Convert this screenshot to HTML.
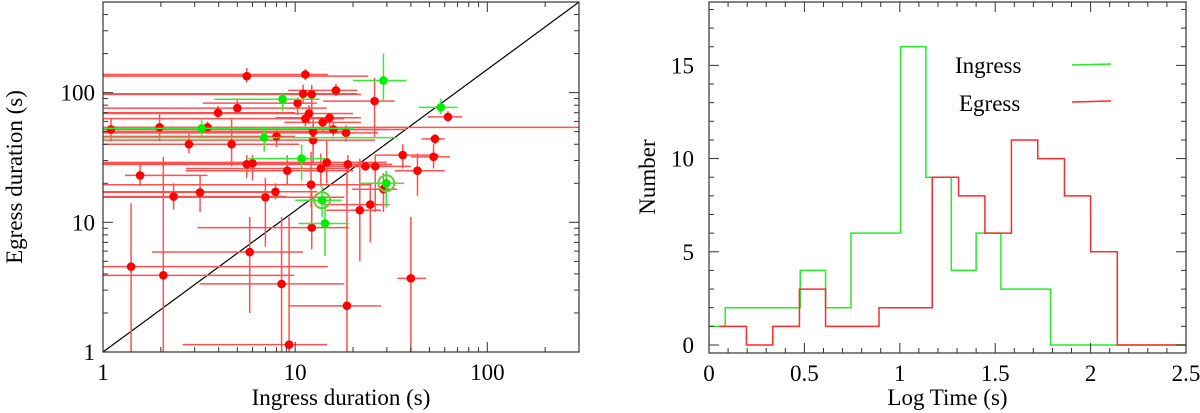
<!DOCTYPE html>
<html><head><meta charset="utf-8"><style>
html,body{margin:0;padding:0;background:#fff}
svg{display:block}
text{font-family:"Liberation Serif",serif;fill:#000}
</style></head><body>
<svg id="fig" width="1200" height="413" viewBox="0 0 1200 413" xmlns="http://www.w3.org/2000/svg">
<defs><clipPath id="clipL"><rect x="103" y="2" width="476" height="350"/></clipPath></defs>
<g id="left"></g>
<g id="right"></g>
</svg>
<script>
// ---------- Scatter data ----------
const redX   = [1.1,1.97,3.5,3.97,5,5.6,11.3,10.3,11,12.2,16.3,25.9,62.4,53.4,52.5,36.3,43.3,26.1,23.2,18.8,14.6,13.6,12.4,12.4,11.8,11.3,13.9,15.1,15.8,18.4,8.0,4.67,2.8,1.56,2.33,3.2,5.6,6.0,7.0,7.9,9.1,12.1,28.8,24.6,21.7,12.2,5.8,1.4,2.06,8.5,18.6,40,9.3];
const redY   = [52,54,54,70,76,134,138,83,98,97,104,86,65,44,32,33,25,27,27,28,29,26,43,50,69,63,59,64,52,49,46,40,40,23,15.8,17,28,28.5,15.6,17.2,25,19.5,18,13.7,12.4,9.1,5.9,4.55,3.9,3.35,2.27,3.7,1.14];
const redXlo = [0.5,0.5,0.5,0.5,0.5,0.5,0.5,3.3,0.5,0.5,9.2,14,49,45.5,40,26,33,14,19,0.5,0.5,2.7,0.5,0.5,0.5,0.5,8.8,7.9,0.5,0.5,0.5,0.5,0.5,1.3,0.5,0.5,0.5,0.5,0.5,0.5,2.7,0.5,19.8,14,14.5,3.1,1.8,0.5,0.5,3.2,9.2,34,2.6];
const redXhi = [30,5,1000,10,14.6,24,14.8,13,21,22,21,33,74,60,64,56,60,40,30,32,30,19,26,19,20,18,22,22,38,27,10,10.5,6.3,3.5,9,8,16,12,18,13,20,25,34,31,28,19,11,14.8,9.9,18,28,48,14.7];
const redYlo = [42,42,50,62,68,120,125,67,82,72,94,45,60,40,26,26,16,12,25,25,20,19,28,37,57,55,50,53,46,42,38,27,34,19,12.5,12,22,21,6.5,15,19.5,13,12,7,5,6.2,2,1,1,1,1,1,1];
const redYhi = [64,68,60,79,88,155,152,92,115,115,117,130,72,48,40,40,34,33,29,33,43,34,63,60,80,70,65,68,58,56,54,62,48,28,20,23,33,33,22,20,33,35,24,20,31,17,11,14,32,11,30,11,11];
const grnX   = [3.26,8.6,28.8,57.3,6.9,10.8,13.8,14.3,29.8];
const grnY   = [53,89,124,77,45,31,14.8,9.8,20];
const grnXlo = [0.5,3.8,20,44,0.5,5.7,10,10.4,21.5];
const grnXhi = [20,13.4,38,70,34,14.5,17.5,19,37];
const grnYlo = [45,72,85,68,35,21,11,5.5,13];
const grnYhi = [62,100,200,90,55,40,19,16,25];
const circled = [6,8];
const xTicksL = [1,10,100];
const yTicksL = [1,10,100];
const lineStart = [1,1];
const lineEnd = [300,500];

// ---------- Histogram data ----------
const ingEdges  = [0,0.085,0.478,0.611,0.744,1.004,1.137,1.27,1.40,1.53,1.79,2.5];
const ingCounts = [1,2,4,2,6,16,9,4,6,3,0];
const egEdges   = [0.055,0.196,0.334,0.474,0.611,0.891,1.17,1.308,1.446,1.585,1.723,1.863,2.0,2.14,2.5];
const egCounts  = [1,0,1,3,1,2,9,8,6,11,10,8,5,0];
const xTicksR = [0,0.5,1,1.5,2,2.5];
const xTickLabelsR = ["0","0.5","1","1.5","2","2.5"];
const yTicksR = [0,5,10,15];

const NS="http://www.w3.org/2000/svg";
function mk(parent,tag,attrs,txt){const e=document.createElementNS(NS,tag);for(const k in attrs)e.setAttribute(k,attrs[k]);if(txt!==undefined)e.textContent=txt;parent.appendChild(e);return e;}
const FS=23;

// ---------- Left panel ----------
const L=document.getElementById('left');
const lx0=103,lx1=579,ly0=352,ly1=2;
const xminL=0,xmaxL=Math.log10(300),yminL=0,ymaxL=Math.log10(500);
const sx=v=>lx0+(Math.log10(v)-xminL)/(xmaxL-xminL)*(lx1-lx0);
const sy=v=>ly0-(Math.log10(v)-yminL)/(ymaxL-yminL)*(ly0-ly1);

const plotG=mk(L,'g',{'clip-path':'url(#clipL)'});


const diag=mk(plotG,'line',{x1:sx(lineStart[0]),y1:sy(lineStart[1]),x2:sx(lineEnd[0]),y2:sy(lineEnd[1]),stroke:'#000','stroke-width':1.2});



function drawSeries(X,Y,XL,XH,YL,YH,col,lcol,name){
  const g=mk(plotG,'g',{});
  
  
  for(let i=0;i<X.length;i++){
    const h=mk(g,'line',{x1:sx(XL[i]),x2:sx(XH[i]),y1:sy(Y[i]),y2:sy(Y[i]),stroke:lcol,'stroke-width':1.5});
    
    
    const v=mk(g,'line',{x1:sx(X[i]),x2:sx(X[i]),y1:sy(YL[i]),y2:sy(YH[i]),stroke:lcol,'stroke-width':1.5});
    
    
  }
  for(let i=0;i<X.length;i++){
    const c=mk(g,'circle',{cx:sx(X[i]),cy:sy(Y[i]),r:4.3,fill:col});
    
    
  }
}
drawSeries(redX,redY,redXlo,redXhi,redYlo,redYhi,'#ff0000','#ff5050','red');
drawSeries(grnX,grnY,grnXlo,grnXhi,grnYlo,grnYhi,'#00ee00','#33ee33','green');
for(const i of circled){
  const c=mk(plotG,'circle',{cx:sx(grnX[i]),cy:sy(grnY[i]),r:8,fill:'none',stroke:'#66cc33','stroke-width':2});
  
  
}
const frL=mk(L,'rect',{x:lx0,y:ly1,width:lx1-lx0,height:ly0-ly1,fill:'none',stroke:'#333','stroke-width':1.2});


for(let d=1;d<=100;d*=10){for(let m=1;m<10;m++){const v=d*m;
  if(v<=300){const x=sx(v),len=m==1?10:5;
    mk(L,'line',{x1:x,x2:x,y1:ly0,y2:ly0-len,stroke:'#333'});
    mk(L,'line',{x1:x,x2:x,y1:ly1,y2:ly1+len,stroke:'#333'});}
  if(v<=500){const y=sy(v),len=m==1?10:5;
    mk(L,'line',{x1:lx0,x2:lx0+len,y1:y,y2:y,stroke:'#333'});
    mk(L,'line',{x1:lx1,x2:lx1-len,y1:y,y2:y,stroke:'#333'});}
}}
for(const t of xTicksL){const e=mk(L,'text',{x:sx(t),y:ly0+28,'font-size':FS,'text-anchor':'middle'},String(t));
  
  }
for(const t of yTicksL){const e=mk(L,'text',{x:lx0-8,y:sy(t)+8,'font-size':FS,'text-anchor':'end'},String(t));
  
  }
const xtL=mk(L,'text',{x:(lx0+lx1)/2,y:405,'font-size':FS,'text-anchor':'middle'},'Ingress duration (s)');


const ytL=mk(L,'text',{x:0,y:0,'font-size':FS,'text-anchor':'middle',transform:'translate(22,177) rotate(-90)'},'Egress duration (s)');



// ---------- Right panel ----------
const R=document.getElementById('right');
const rx0=709,rx1=1186,ry0=353,ry1=2;
const yminR=-0.43,ymaxR=18.4;
const hx=v=>rx0+v/2.5*(rx1-rx0);
const hy=v=>ry0-(v-yminR)/(ymaxR-yminR)*(ry0-ry1);
function stepPath(E,C){let d='M'+hx(E[0])+','+hy(C[0]);
  for(let i=0;i<C.length;i++){d+=' L'+hx(E[i+1])+','+hy(C[i]);if(i+1<C.length)d+=' L'+hx(E[i+1])+','+hy(C[i+1]);}
  return d;}
const pg=mk(R,'path',{d:stepPath(ingEdges,ingCounts),fill:'none',stroke:'#22ee22','stroke-width':1.5});


const pr=mk(R,'path',{d:stepPath(egEdges,egCounts),fill:'none',stroke:'#ff2a2a','stroke-width':1.5});


const frR=mk(R,'rect',{x:rx0,y:ry1,width:rx1-rx0,height:ry0-ry1,fill:'none',stroke:'#333','stroke-width':1.2});


for(let k=0;k<=25;k++){const v=k/10,x=hx(v),len=(k%5==0)?10:5;
  mk(R,'line',{x1:x,x2:x,y1:ry0,y2:ry0-len,stroke:'#333'});
  mk(R,'line',{x1:x,x2:x,y1:ry1,y2:ry1+len,stroke:'#333'});}
for(let v=0;v<=18;v++){const y=hy(v),len=(v%5==0)?10:5;
  mk(R,'line',{x1:rx0,x2:rx0+len,y1:y,y2:y,stroke:'#333'});
  mk(R,'line',{x1:rx1,x2:rx1-len,y1:y,y2:y,stroke:'#333'});}
xTicksR.forEach((t,i)=>{const e=mk(R,'text',{x:hx(t),y:ry0+28,'font-size':FS,'text-anchor':'middle'},xTickLabelsR[i]);
  
  });
for(const t of yTicksR){const e=mk(R,'text',{x:rx0-15,y:hy(t)+8,'font-size':FS,'text-anchor':'end'},String(t));
  
  }
const xtR=mk(R,'text',{x:(rx0+rx1)/2,y:405,'font-size':FS,'text-anchor':'middle'},'Log Time (s)');


const ytR=mk(R,'text',{x:0,y:0,'font-size':FS,'text-anchor':'middle',transform:'translate(655,177) rotate(-90)'},'Number');


const lg=mk(R,'g',{});


const l1=mk(lg,'text',{x:955,y:73,'font-size':FS},'Ingress');


const s1=mk(lg,'line',{x1:1072,x2:1111,y1:65,y2:64,stroke:'#22ee22','stroke-width':1.5});


const l2=mk(lg,'text',{x:959,y:111,'font-size':FS},'Egress');


const s2=mk(lg,'line',{x1:1072,x2:1111,y1:102,y2:101,stroke:'#ff2a2a','stroke-width':1.5});


</script>
</body></html>
